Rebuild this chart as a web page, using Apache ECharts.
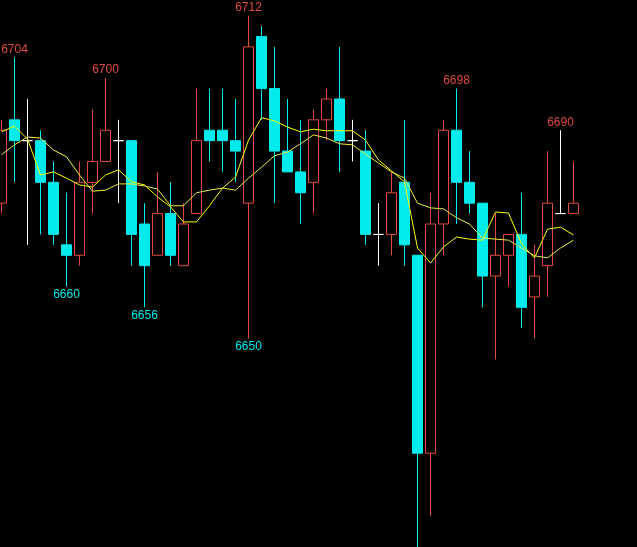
<!DOCTYPE html>
<html>
<head>
<meta charset="utf-8">
<script src="https://cdn.jsdelivr.net/npm/echarts@6/dist/echarts.min.js"></script>
<style>
html,body{margin:0;padding:0;background:#000;}
#chart{width:637px;height:547px;}
</style>
</head>
<body>
<div id="chart"></div>
<script>
const categories = [1,2,3,4,5,6,7,8,9,10,11,12,13,14,15,16,17,18,19,20,21,22,23,24,25,26,27,28,29,30,31,32,33,34,35,36,37,38,39,40,41,42,43,44,45];
const opens  = [6676,6692,6688,6688,6680,6668,6666,6680,6684,6688,6688,6672,6666,6674,6664,6674,6690,6690,6688,6676,6708,6698,6686,6682,6680,6692,6696,6688,6686,6670,6670,6680,6666,6628,6672,6690,6680,6676,6662,6666,6670,6658,6664,6674,6674];
const closes = [6690,6688,6688,6680,6670,6666,6680,6684,6690,6688,6670,6664,6674,6666,6672,6688,6688,6688,6686,6706,6698,6686,6682,6678,6692,6696,6688,6688,6670,6670,6678,6668,6628,6672,6690,6680,6676,6662,6666,6670,6656,6662,6676,6674,6676];
const lows   = [6674,6680,6668,6670,6668,6660,6664,6674,6684,6676,6664,6656,6666,6664,6664,6674,6684,6682,6680,6650,6692,6676,6682,6672,6674,6688,6682,6684,6668,6664,6666,6664,6606,6616,6666,6672,6674,6656,6646,6660,6652,6650,6658,6674,6674];
const highs  = [6692,6704,6696,6690,6684,6678,6684,6694,6700,6692,6688,6676,6682,6680,6676,6698,6698,6698,6696,6712,6710,6706,6696,6692,6694,6698,6706,6692,6690,6676,6682,6692,6666,6678,6692,6698,6686,6676,6674,6670,6678,6668,6686,6690,6684];
const maFast = [6689.7,6690.8,6688.3,6681.4,6682.0,6680.8,6679.5,6679.1,6681.4,6682.4,6680.1,6679.5,6677.2,6675.3,6672.4,6672.4,6675.5,6678.9,6681.0,6688.1,6692.4,6691.8,6690.6,6689.7,6690.2,6689.9,6689.9,6689.9,6688.1,6684.3,6682.2,6680.1,6667.4,6664.5,6667.6,6669.5,6669.1,6668.9,6674.3,6674.1,6668.2,6665.5,6671.0,6671.4,6669.9];
const maSlow = [6685.3,6687.2,6688.7,6688.5,6686.2,6684.9,6681.4,6678.3,6678.5,6679.7,6679.7,6679.3,6678.7,6675.5,6675.5,6678.0,6678.5,6678.9,6678.5,6680.8,6682.9,6685.1,6685.8,6687.4,6689.1,6688.5,6687.4,6687.2,6685.4,6683.7,6682.0,6680.8,6676.0,6675.1,6674.9,6673.2,6672.0,6669.3,6669.1,6668.9,6667.4,6665.9,6665.5,6667.4,6668.9];
const highMarks = [1, 8, 19, 35, 43];
const lowMarks = [5, 11, 19];

const UP = '#e04a3e';
const DOWN = '#00ecec';
const DOJI = '#ffffff';

const candleData = opens.map((o, i) => {
  const item = { value: [o, closes[i], lows[i], highs[i]] };
  if (o === closes[i]) {
    item.itemStyle = { color: DOJI, color0: DOJI, borderColor: DOJI, borderColor0: DOJI, borderColorDoji: DOJI };
  }
  return item;
});

const marks = [];
highMarks.forEach(i => marks.push({
  coord: [i, highs[i]], value: highs[i],
  label: { position: 'top', color: UP }
}));
lowMarks.forEach(i => marks.push({
  coord: [i, lows[i]], value: lows[i],
  label: { position: 'bottom', color: DOWN }
}));

const chart = echarts.init(document.getElementById('chart'));
chart.setOption({
  animation: false,
  backgroundColor: '#000',
  grid: { left: 1.5, top: 0, width: 572, height: 547 },
  xAxis: {
    type: 'category', data: categories, boundaryGap: false,
    show: false
  },
  yAxis: {
    type: 'value', min: 6610, max: 6715, show: false,
    splitLine: { show: false }
  },
  series: [
    {
      type: 'candlestick',
      data: candleData,
      barWidth: 11,
      clip: false,
      itemStyle: {
        color: '#000', color0: DOWN,
        borderColor: UP, borderColor0: DOWN,
        borderColorDoji: DOJI,
        borderWidth: 1
      },
      markPoint: {
        symbol: 'circle', symbolSize: 0,
        label: {
          show: true, formatter: '{c}', distance: 2,
          fontSize: 12, fontFamily: 'Liberation Sans, Arial, sans-serif'
        },
        data: marks
      }
    },
    {
      type: 'line', data: maFast, symbol: 'none', smooth: false,
      lineStyle: { color: '#ffff00', width: 1 }
    },
    {
      type: 'line', data: maSlow, symbol: 'none', smooth: false,
      lineStyle: { color: '#f0f040', width: 1 }
    }
  ]
});
</script>
</body>
</html>
